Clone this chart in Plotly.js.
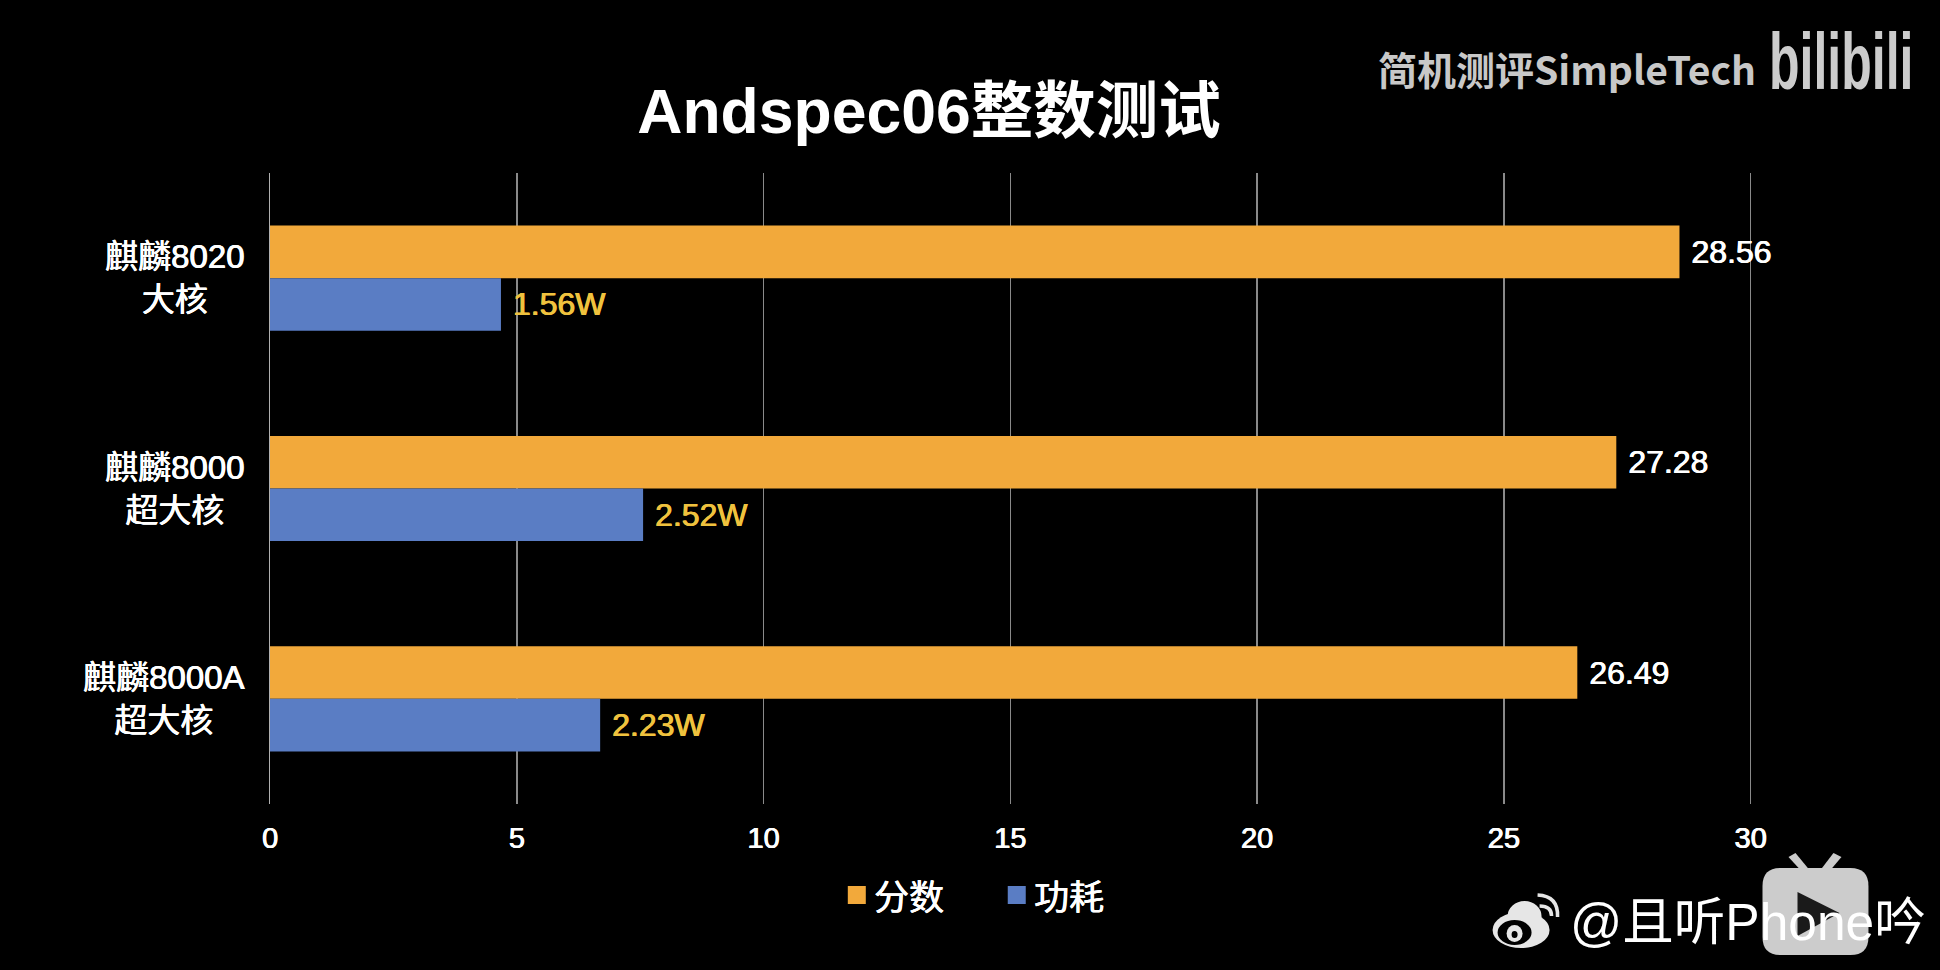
<!DOCTYPE html>
<html>
<head>
<meta charset="utf-8">
<script src="https://cdn.plot.ly/plotly-3.0.1.min.js"></script>
<style>
    html, body { margin: 0; padding: 0; background: #000; }
    #chart { width: 1940px; height: 970px; }
</style>
</head>
<body>
<div id="chart"></div>
<script>
"use strict";

const chips = ["麒麟8020<br>大核", "麒麟8000<br>超大核", "麒麟8000A<br>超大核"];
const seriesNames = ["分数", "功耗"];
const seriesColors = ["#F2A93B", "#5A7DC4"];
const scores = [28.56, 27.28, 26.49];
const scoreLabels = ["28.56", "27.28", "26.49"];
// power bars are drawn at about 3x the watt figure in the source chart
const powerBars = [4.68, 7.56, 6.69];
const powerLabels = ["1.56W", "2.52W", "2.23W"];
const xTicks = [0, 5, 10, 15, 20, 25, 30];

const W = 1940;
const H = 970;
const margin = { l: 270, r: 186.5, t: 173, b: 166 };
const fontFamily = '"Liberation Sans", "Noto Sans CJK SC", sans-serif';
const cjkFamily = '"Noto Sans CJK SC", sans-serif';

// regular weight thickened a little, the source text sits between regular and bold
const medium = (color, size) => ({
    color,
    size,
    family: fontFamily,
    shadow: `0.6px 0 0 ${color}, -0.3px 0 0 ${color}`,
});

// page pixels -> paper coordinates, only used for legend and watermarks
const px = (x) => (x - margin.l) / (W - margin.l - margin.r);
const py = (y) => 1 - (y - margin.t) / (H - margin.t - margin.b);
const pathOf = (points) =>
    "M" + points.map((p) => `${px(p[0])},${py(p[1])}`).join("L") + "Z";
const paperShape = (extra) => ({ xref: "paper", yref: "paper", layer: "above", line: { width: 0 }, ...extra });
const ellipse = (color, x0, x1, y0, y1) =>
    paperShape({ type: "circle", fillcolor: color, x0: px(x0), x1: px(x1), y0: py(y0), y1: py(y1) });

const traces = [
    {
        type: "bar",
        orientation: "h",
        name: seriesNames[0],
        y: chips,
        x: scores,
        text: scoreLabels.map((t) => "\u00a0" + t),
        textposition: "outside",
        cliponaxis: false,
        textfont: medium("#ffffff", 32),
        marker: { color: seriesColors[0] },
        hoverinfo: "skip",
    },
    {
        type: "bar",
        orientation: "h",
        name: seriesNames[1],
        y: chips,
        x: powerBars,
        text: powerLabels.map((t) => "\u00a0" + t),
        textposition: "outside",
        cliponaxis: false,
        textfont: medium("#EFC23E", 32),
        marker: { color: seriesColors[1] },
        hoverinfo: "skip",
    },
];

const chipAnnotations = chips.map((chip) => ({
    x: 0,
    y: chip,
    xref: "x",
    yref: "y",
    text: chip,
    showarrow: false,
    xanchor: "right",
    xshift: -24,
    align: "center",
    font: medium("#ffffff", 33),
}));

const note = (text, x, y, font) => ({
    x: px(x),
    y: py(y),
    xref: "paper",
    yref: "paper",
    text,
    showarrow: false,
    xanchor: "left",
    yanchor: "middle",
    font,
});

const legendX = [848, 1008];

const layout = {
    width: W,
    height: H,
    margin,
    showlegend: false,
    paper_bgcolor: "#000000",
    plot_bgcolor: "#000000",
    barmode: "group",
    bargap: 0.5,
    bargroupgap: 0,
    title: {
        text: "Andspec06整数测试",
        x: 929 / W,
        xanchor: "center",
        y: 1 - 111 / H,
        yanchor: "middle",
        font: { color: "#ffffff", size: 62.5, family: fontFamily, weight: 700 },
    },
    xaxis: {
        range: [0, 30.05],
        tickvals: xTicks,
        ticktext: xTicks.map(String),
        ticks: "outside",
        ticklen: 8,
        tickcolor: "rgba(0,0,0,0)",
        tickfont: medium("#ffffff", 29),
        showgrid: true,
        gridcolor: "#8a8a8a",
        gridwidth: 1.5,
        zeroline: false,
        showline: false,
    },
    yaxis: {
        autorange: "reversed",
        showticklabels: false,
        ticks: "",
        showgrid: false,
        zeroline: false,
        showline: true,
        linecolor: "#b0b0b0",
        linewidth: 1.5,
    },
    annotations: [
        ...chipAnnotations,
        ...seriesNames.map((name, i) =>
            note(name, legendX[i] + 24, 897, medium("#ffffff", 35))
        ),
        note("简机测评SimpleTech", 1376, 68, { color: "#c8c8c8", size: 39, family: cjkFamily, weight: 700 }),
        note("bilibili", 1768, 62, { color: "#cccccc", size: 50, family: fontFamily, weight: 700 }),
        note("@且听Phone吟", 1568, 922, { color: "#ffffff", size: 51.5, family: fontFamily }),
    ],
    shapes: [
        ...seriesColors.map((color, i) =>
            paperShape({ type: "rect", fillcolor: color, x0: px(legendX[i]), x1: px(legendX[i] + 18), y0: py(886), y1: py(904) })
        ),
        // video badge behind the handle
        paperShape({
            type: "path",
            fillcolor: "#cccccc",
            path: `M${px(1763)},${py(886)}Q${px(1763)},${py(868)} ${px(1781)},${py(868)}L${px(1851)},${py(868)}Q${px(1869)},${py(868)} ${px(1869)},${py(886)}L${px(1869)},${py(937)}Q${px(1869)},${py(955)} ${px(1851)},${py(955)}L${px(1781)},${py(955)}Q${px(1763)},${py(955)} ${px(1763)},${py(937)}Z`,
        }),
        paperShape({ type: "path", fillcolor: "#cccccc", path: pathOf([[1789, 857], [1796, 853], [1810, 870], [1801, 870]]) }),
        paperShape({ type: "path", fillcolor: "#cccccc", path: pathOf([[1834, 853], [1842, 857], [1831, 870], [1821, 870]]) }),
        paperShape({ type: "path", fillcolor: "#1a1a1a", path: pathOf([[1798, 892], [1840, 913], [1798, 936]]) }),
        // weibo mark
        ellipse("#e6e6e6", 1493, 1550, 912, 948),
        ellipse("#e6e6e6", 1508, 1542, 901, 932),
        ellipse("#000000", 1498, 1532, 920, 945),
        ellipse("#e6e6e6", 1507, 1523, 925, 942),
        ellipse("#000000", 1512, 1518, 931, 938),
        paperShape({ type: "path", fillcolor: "rgba(0,0,0,0)", line: { color: "#e6e6e6", width: 3.5 }, path: `M${px(1540)},${py(906)}Q${px(1552)},${py(906)} ${px(1552)},${py(916)}` }),
        paperShape({ type: "path", fillcolor: "rgba(0,0,0,0)", line: { color: "#e6e6e6", width: 3.5 }, path: `M${px(1538)},${py(895)}Q${px(1559)},${py(896)} ${px(1558)},${py(917)}` }),
    ],
};

Plotly.newPlot("chart", traces, layout, { staticPlot: true, displayModeBar: false }).then(() => {
    // the wordmark is taller and narrower than any installed font
    document.querySelectorAll("#chart .annotation-text").forEach((node) => {
        if (node.textContent === "bilibili") {
            node.style.transformBox = "fill-box";
            node.style.transformOrigin = "center";
            node.style.transform = "scaleY(1.6)";
        }
    });
});
</script>
</body>
</html>
